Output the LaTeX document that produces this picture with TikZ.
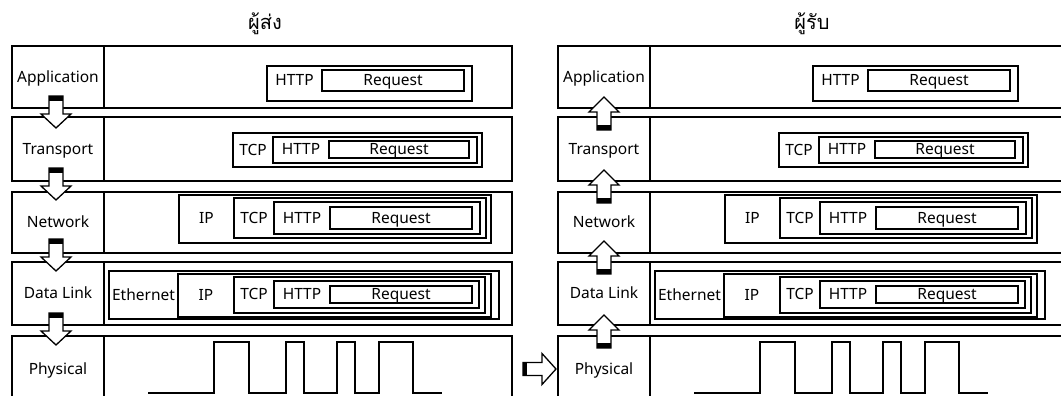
\documentclass[tikz,border=0pt]{standalone}
\usepackage{fontspec}
\setmainfont{Noto Sans}
\newfontfamily\thaifont[Script=Thai]{Loma}
\usetikzlibrary{calc}

\tikzset{
  frame/.style={draw=black, line width=1.3pt, inner sep=0pt, outer sep=0pt},
  lbl/.style={font=\fontsize{15.5}{18}\selectfont, inner sep=0pt, text height=12pt, text depth=2pt},
  title/.style={font=\thaifont\fontsize{20}{24}\selectfont, inner sep=0pt},
  blockarrow/.style={draw=black, line width=1.3pt, fill=white, line join=miter},
  signal/.style={draw=black, line width=2pt},
  downarrow/.pic={
    \draw[blockarrow] (-7,0) -- (-7,18) -- (-15,18) -- (0,32) -- (15,18) -- (7,18) -- (7,0) -- cycle;
    \fill[black] (-7,0) rectangle (7,5);
  },
  uparrow/.pic={
    \draw[blockarrow] (0,0) -- (15,15) -- (7,15) -- (7,33) -- (-7,33) -- (-7,15) -- (-15,15) -- cycle;
    \fill[black] (-7,28) rectangle (7,33);
  },
  rightarrow/.pic={
    \draw[blockarrow] (0,-6.5) -- (19,-6.5) -- (19,-15.5) -- (33,0) -- (19,15.5) -- (19,6.5) -- (0,6.5) -- cycle;
    \fill[black] (0,-6.5) rectangle (4,6.5);
  },
}

% a framed box given by its corners: name, x1, y1, x2, y2
\newcommand\pktbox[5]{%
  \pgfmathsetmacro\pktw{#4-#2}\pgfmathsetmacro\pkth{#5-#3}%
  \node[frame, anchor=north west, minimum width=\pktw pt, minimum height=\pkth pt] (#1) at (#2,#3) {};}

% label centred in the gap between an outer box and the box it holds
\newcommand\gaplabel[4]{%
  \node[lbl] (#1) at ($(#2.west |- #3.center)!0.5!(#3.west)$) {#4};}

% one protocol stack: prefix, right end of the rows
\newcommand\osistack[2]{%
  % layer rows
  \pktbox{#1-appL}{12}{46}{104}{108}\pktbox{#1-appC}{104}{46}{#2}{108}
  \pktbox{#1-trnL}{12}{117}{104}{181}\pktbox{#1-trnC}{104}{117}{#2}{181}
  \pktbox{#1-netL}{12}{192}{104}{253}\pktbox{#1-netC}{104}{192}{#2}{253}
  \pktbox{#1-dllL}{12}{262}{104}{325}\pktbox{#1-dllC}{104}{262}{#2}{325}
  \pktbox{#1-phyL}{12}{336}{104}{402}\pktbox{#1-phyC}{104}{336}{#2}{402}
  \node[lbl] (#1-appT) at (#1-appL.center) {Application};
  \node[lbl] (#1-trnT) at (#1-trnL.center) {Transport};
  \node[lbl] (#1-netT) at (#1-netL.center) {Network};
  \node[lbl] (#1-dllT) at (#1-dllL.center) {Data Link};
  \node[lbl] (#1-phyT) at (#1-phyL.center) {Physical};
  % application data
  \pktbox{#1-a-http}{267}{66}{472}{101}
  \pktbox{#1-a-req}{322}{70}{464}{91}
  \gaplabel{#1-a-httpT}{#1-a-http}{#1-a-req}{HTTP}
  \node[lbl] (#1-a-reqT) at (#1-a-req.center) {Request};
  % segment
  \pktbox{#1-t-tcp}{233}{133}{482}{167}
  \pktbox{#1-t-http}{273}{137}{477}{163}
  \pktbox{#1-t-req}{329}{141}{469}{158}
  \gaplabel{#1-t-tcpT}{#1-t-tcp}{#1-t-http}{TCP}
  \gaplabel{#1-t-httpT}{#1-t-http}{#1-t-req}{HTTP}
  \node[lbl] (#1-t-reqT) at (#1-t-req.center) {Request};
  % packet
  \pktbox{#1-n-ip}{179}{195}{491}{243}
  \pktbox{#1-n-tcp}{234}{198}{486}{238}
  \pktbox{#1-n-http}{274}{202}{480}{234}
  \pktbox{#1-n-req}{330}{207}{472}{229}
  \gaplabel{#1-n-ipT}{#1-n-ip}{#1-n-tcp}{IP}
  \gaplabel{#1-n-tcpT}{#1-n-tcp}{#1-n-http}{TCP}
  \gaplabel{#1-n-httpT}{#1-n-http}{#1-n-req}{HTTP}
  \node[lbl] (#1-n-reqT) at (#1-n-req.center) {Request};
  % frame
  \pktbox{#1-d-eth}{109}{271}{499}{319}
  \pktbox{#1-d-ip}{178}{274}{491}{317}
  \pktbox{#1-d-tcp}{234}{277}{485}{313}
  \pktbox{#1-d-http}{274}{281}{479}{308}
  \pktbox{#1-d-req}{330}{286}{472}{303}
  \gaplabel{#1-d-ethT}{#1-d-eth}{#1-d-ip}{Ethernet}
  \gaplabel{#1-d-ipT}{#1-d-ip}{#1-d-tcp}{IP}
  \gaplabel{#1-d-tcpT}{#1-d-tcp}{#1-d-http}{TCP}
  \gaplabel{#1-d-httpT}{#1-d-http}{#1-d-req}{HTTP}
  \node[lbl] (#1-d-reqT) at (#1-d-req.center) {Request};
  % bit stream on the wire
  \draw[signal] (148,393) -| (214,342) -| (249,393) -| (286,342) -| (304,393)
    -| (337,342) -| (355,393) -| (379,342) -| (413,393) -- (442,393);
}

\begin{document}
\begin{tikzpicture}[x=1pt, y=-1pt]
  \useasboundingbox (0,0) rectangle (1061,396);

  % sender
  \node[title] (sender) at (265,24) {ผู้ส่ง};
  \osistack{s}{512}
  \pic at (56,96) {downarrow};
  \pic at (56,168) {downarrow};
  \pic at (56,239) {downarrow};
  \pic at (56,313) {downarrow};

  % receiver
  \node[title] (receiver) at (812,24) {ผู้รับ};
  \begin{scope}[xshift=546pt]
    \osistack{r}{520}
    \pic at (58,97) {uparrow};
    \pic at (58,170) {uparrow};
    \pic at (58,241) {uparrow};
    \pic at (58,315) {uparrow};
  \end{scope}

  % sender wire to receiver wire
  \pic at (523,369) {rightarrow};
\end{tikzpicture}
\end{document}
